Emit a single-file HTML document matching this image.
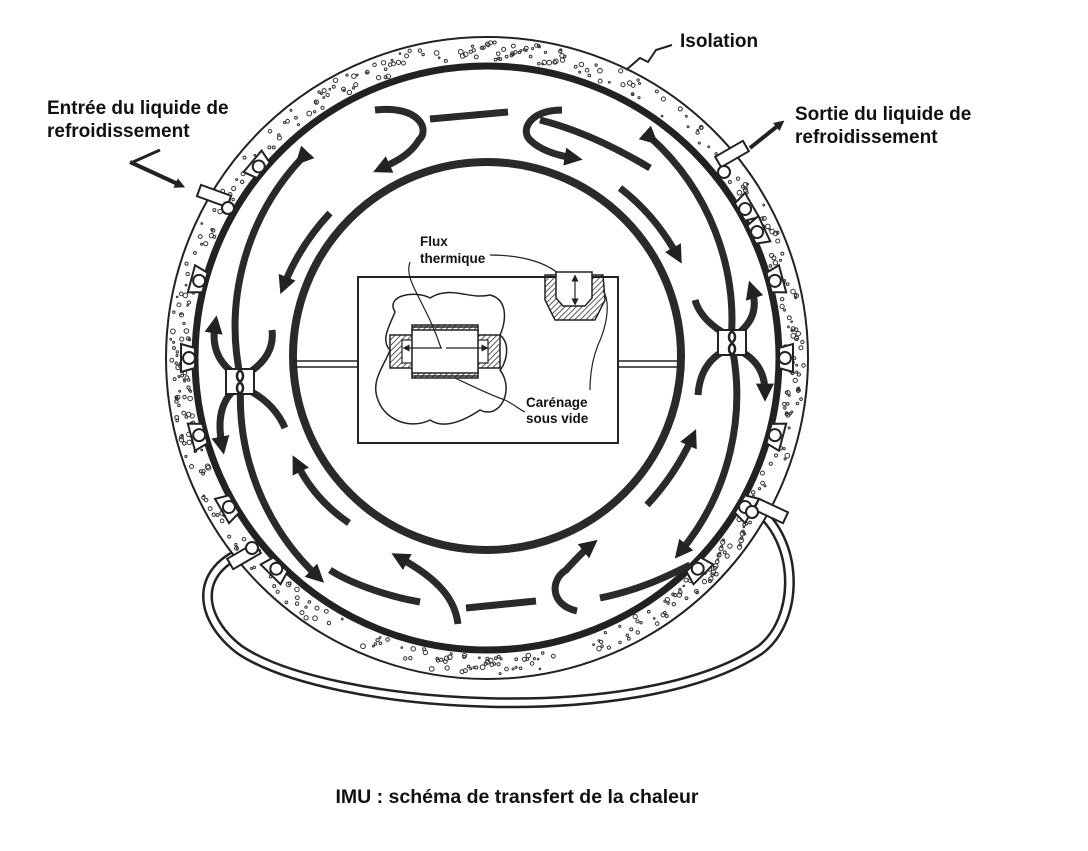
<!DOCTYPE html>
<html><head><meta charset="utf-8"><style>
html,body{margin:0;padding:0;background:#fff;}
svg{display:block;}
text{font-family:"Liberation Sans",Arial,sans-serif;font-weight:bold;fill:#111;}
</style></head><body>
<svg width="1088" height="851" viewBox="0 0 1088 851" xmlns="http://www.w3.org/2000/svg">
<defs>
<marker id="ah" markerWidth="2.6" markerHeight="2.6" refX="1.2" refY="1.3" orient="auto" markerUnits="strokeWidth">
<path d="M0,0 L2.6,1.3 L0,2.6 Z" fill="#222"/></marker>
<marker id="ah2" markerWidth="6" markerHeight="6" refX="3" refY="3" orient="auto" markerUnits="strokeWidth">
<path d="M0,0 L6,3 L0,6 Z" fill="#222"/></marker>
<pattern id="hatch" width="4" height="4" patternUnits="userSpaceOnUse" patternTransform="rotate(45)">
<line x1="0" y1="0" x2="0" y2="4" stroke="#222" stroke-width="1.5"/></pattern>
</defs>

<path d="M250,549 C190,570 200,620 240,650 C330,710 640,730 760,650 C800,620 800,540 755,508" fill="none" stroke="#222" stroke-width="11"/>
<path d="M250,549 C190,570 200,620 240,650 C330,710 640,730 760,650 C800,620 800,540 755,508" fill="none" stroke="#fff" stroke-width="6"/>

<circle cx="487" cy="358" r="321" fill="#fff" stroke="#222" stroke-width="2"/>
<g id="dots" fill="none" stroke="#333" stroke-width="1"></g>
<circle cx="487" cy="358" r="292" fill="#fff" stroke="#222" stroke-width="7"/>

<g id="mounts" stroke="#222" stroke-width="2" fill="#fff"></g>

<g fill="none" stroke="#2a2a2a" stroke-width="7" stroke-linecap="butt">
<path d="M302,158 A246,246 0 0 0 241,380 A246,246 0 0 0 317,576" marker-start="url(#ah)" marker-end="url(#ah)"/>
<path d="M430,119 L508,112"/>
<path d="M466,608 L536,601"/>
<path d="M651,138 A246,246 0 0 1 731,342" marker-start="url(#ah)"/>
<path d="M731,342 A246,246 0 0 1 681,551" marker-end="url(#ah)"/>
<path d="M375,110 C420,105 430,130 419,140 C410,155 395,162 382,168" marker-end="url(#ah)"/>
<path d="M562,110 C530,110 520,130 530,140 C540,150 555,155 573,158" marker-end="url(#ah)"/>
<path d="M458,624 C455,600 440,580 400,558" marker-end="url(#ah)"/>
<path d="M577,611 C550,605 550,580 566,570 C575,560 585,550 590,546" marker-end="url(#ah)"/>
<path d="M540,120 C580,130 620,150 650,168"/>
<path d="M600,598 C640,590 670,575 690,565"/>
<path d="M420,602 C380,595 345,580 330,570"/>
<path d="M330,213 Q300,245 284,285" marker-end="url(#ah)"/>
<path d="M620,188 Q655,215 677,255" marker-end="url(#ah)"/>
<path d="M349,523 Q315,500 297,464" marker-end="url(#ah)"/>
<path d="M647,505 Q675,475 692,438" marker-end="url(#ah)"/>
<path d="M232,372 Q210,355 215,325" marker-end="url(#ah)"/>
<path d="M250,372 Q275,355 272,330"/>
<path d="M232,392 Q215,410 222,445" marker-end="url(#ah)"/>
<path d="M252,392 Q275,405 285,428"/>
<path d="M740,332 Q760,315 752,290" marker-end="url(#ah)"/>
<path d="M722,332 Q700,318 695,300"/>
<path d="M742,352 Q765,365 765,392" marker-end="url(#ah)"/>
<path d="M722,352 Q700,365 698,395"/>
</g>
<g stroke="#222" stroke-width="2" fill="#fff">
<rect x="226" y="369" width="28" height="25"/>
<rect x="718" y="330" width="28" height="25"/>
</g>
<g stroke="#222" stroke-width="2.5" fill="none">
<ellipse cx="240" cy="376" rx="3" ry="5"/><ellipse cx="240" cy="388" rx="3" ry="5"/>
<ellipse cx="732" cy="337" rx="3" ry="5"/><ellipse cx="732" cy="349" rx="3" ry="5"/>
</g>

<circle cx="487" cy="356" r="194" fill="#fff" stroke="#2a2a2a" stroke-width="8"/>
<g stroke="#222" stroke-width="1.5">
<line x1="293" y1="361" x2="358" y2="361"/><line x1="293" y1="367" x2="358" y2="367"/>
<line x1="618" y1="361" x2="681" y2="361"/><line x1="618" y1="367" x2="681" y2="367"/>
</g>
<rect x="358" y="277" width="260" height="166" fill="#fff" stroke="#222" stroke-width="2"/>
<path d="M395,312 C385,295 415,290 430,298 C450,285 470,300 490,295 C510,300 505,325 500,335 C512,345 505,365 500,370 C515,390 500,420 480,410 C465,420 445,430 430,420 C410,430 385,420 378,400 C370,380 385,365 390,350 C380,340 390,325 395,312 Z" fill="#fff" stroke="#222" stroke-width="1.5"/>
<path d="M390,335 L412,335 L412,325 L478,325 L478,335 L500,335 L500,368 L478,368 L478,378 L412,378 L412,368 L390,368 Z" fill="url(#hatch)" stroke="#222" stroke-width="1.5"/>
<rect x="402" y="340" width="10" height="23" fill="#fff" stroke="#222" stroke-width="1.2"/>
<rect x="478" y="340" width="10" height="23" fill="#fff" stroke="#222" stroke-width="1.2"/>
<path d="M412,330 L478,330 L478,373 L412,373 Z" fill="#fff" stroke="#222" stroke-width="1.5"/>
<line x1="412" y1="327" x2="478" y2="327" stroke="#222" stroke-width="1.5"/>
<line x1="412" y1="376" x2="478" y2="376" stroke="#222" stroke-width="1.5"/>
<g stroke="#222" stroke-width="1.2" fill="none">
<line x1="442" y1="348" x2="406" y2="348" marker-end="url(#ah2)"/>
<line x1="446" y1="348" x2="485" y2="348" marker-end="url(#ah2)"/>
<path d="M410,262 C403,280 425,300 441,348"/>
<path d="M455,378 C470,385 490,395 505,400 C515,405 520,410 525,412"/>
<path d="M490,255 C520,255 555,262 568,285"/>
<path d="M603,290 C612,305 605,330 598,345 C592,360 590,375 590,390"/>
</g>
<path d="M545,275 L603,275 L605,300 L595,320 L555,320 L545,300 Z" fill="url(#hatch)" stroke="#222" stroke-width="1.5"/>
<path d="M556,272 L592,272 L592,298 L585,306 L563,306 L556,298 Z" fill="#fff" stroke="#222" stroke-width="1.5"/>
<line x1="575" y1="290" x2="575" y2="278" stroke="#222" stroke-width="1.2" marker-end="url(#ah2)"/>
<line x1="575" y1="290" x2="575" y2="302" stroke="#222" stroke-width="1.2" marker-end="url(#ah2)"/>

<g stroke="#222" stroke-width="2" fill="#fff">
<rect x="198" y="190" width="32" height="12" transform="rotate(20 214 196)"/>
<circle cx="228" cy="208" r="6"/>
<rect x="716" y="148" width="32" height="12" transform="rotate(-30 732 154)"/>
<circle cx="724" cy="172" r="6"/>
<rect x="228" y="550" width="32" height="12" transform="rotate(-30 244 556)"/>
<circle cx="252" cy="548" r="6"/>
<rect x="755" y="505" width="32" height="12" transform="rotate(25 771 511)"/>
<circle cx="752" cy="512" r="6"/>
</g>
<g stroke="#222" stroke-width="4" fill="none">
<line x1="130" y1="162" x2="180" y2="185" marker-end="url(#ah)"/>
<line x1="160" y1="150" x2="133" y2="162" stroke-width="3"/>
<line x1="750" y1="148" x2="780" y2="124" marker-end="url(#ah)"/>
</g>
<path d="M626,70 L640,58 L648,62 L656,50 L672,45" fill="none" stroke="#222" stroke-width="2"/>

<text x="680" y="47" font-size="19">Isolation</text>
<text x="47" y="114" font-size="19">Entrée du liquide de</text>
<text x="47" y="137" font-size="19">refroidissement</text>
<text x="795" y="120" font-size="19">Sortie du liquide de</text>
<text x="795" y="143" font-size="19">refroidissement</text>
<text x="420" y="246" font-size="13.5">Flux</text>
<text x="420" y="263" font-size="13.5">thermique</text>
<text x="526" y="407" font-size="13.5">Carénage</text>
<text x="526" y="423" font-size="13.5">sous vide</text>
<text x="517" y="803" font-size="19.5" text-anchor="middle">IMU : schéma de transfert de la chaleur</text>
</svg>
<script>
(function(){
var ns="http://www.w3.org/2000/svg",cx=487,cy=358;
var g=document.getElementById('dots');var s=7;
function r(){s=(s*9301+49297)%233280;return s/233280;}
for(var i=0;i<520;i++){var a=r()*Math.PI*2,rr=298+r()*19;var c=document.createElementNS(ns,'circle');
c.setAttribute('cx',cx+rr*Math.cos(a));c.setAttribute('cy',cy+rr*Math.sin(a));c.setAttribute('r',0.8+r()*1.6);g.appendChild(c);}
var m=document.getElementById('mounts');
var angs=[150,165,180,195,220,330,345,0,15,30,45,135,-25];
angs.forEach(function(d){var a=d*Math.PI/180,x=cx+300*Math.cos(a),y=cy+300*Math.sin(a);
var gg=document.createElementNS(ns,'g');gg.setAttribute('transform','translate('+x+','+y+') rotate('+(d+90)+')');
gg.innerHTML='<path d="M-14,-6 L-10,8 L10,8 L14,-6 Z"/><circle cx="0" cy="2" r="6"/>';m.appendChild(gg);});
})();
</script>
</body></html>
